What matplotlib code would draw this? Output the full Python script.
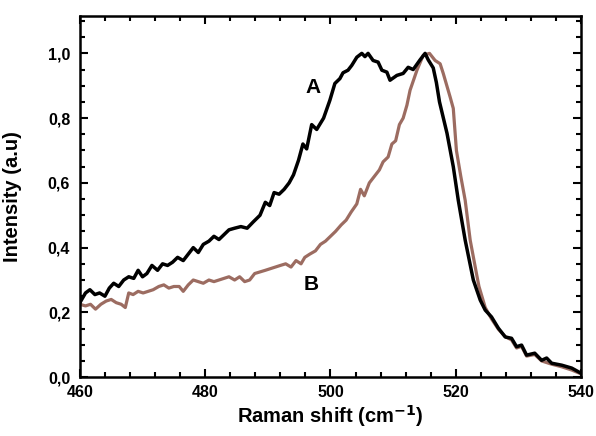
import matplotlib
matplotlib.use("Agg")
import matplotlib.pyplot as plt
from matplotlib.ticker import MultipleLocator, FuncFormatter

plt.rcParams['font.family'] = ['Liberation Sans', 'DejaVu Sans']
plt.rcParams['font.weight'] = 'bold'

# curve A (black)
xa = [460, 460.9, 461.6, 462.4, 463.15, 464.0, 464.7, 465.4, 466.2, 467.0,
      467.8, 468.6, 469.3, 470.0, 470.7, 471.5, 472.4, 473.2, 474.0, 474.8,
      475.6, 476.5, 477.3, 478.1, 478.9, 479.7, 480.6, 481.4, 482.2, 483.0,
      483.8, 484.7, 485.7, 486.7, 487.7, 488.75, 489.6, 490.3, 491.0, 491.8,
      492.6, 493.4, 494.1, 494.9, 495.6, 496.2, 497.0, 497.8, 498.9, 499.9,
      500.7, 501.5, 502.0, 502.8, 503.4, 504.2, 505.0, 505.5, 506.0, 506.8,
      507.6, 508.2, 509.0, 509.5, 510.6, 511.6, 512.4, 513.2, 514.3, 515.1,
      515.6, 516.4, 516.9, 517.4, 518.6, 519.6, 520.4, 521.5, 522.8, 523.9,
      524.7, 525.7, 526.8, 527.9, 528.9, 529.7, 530.5, 531.3, 532.6, 533.7,
      534.5, 535.3, 536.9, 538.5, 540]
ya = [0.23, 0.26, 0.27, 0.255, 0.26, 0.25, 0.275, 0.29, 0.28, 0.30,
      0.31, 0.305, 0.33, 0.31, 0.32, 0.345, 0.33, 0.35, 0.345, 0.355,
      0.37, 0.36, 0.38, 0.40, 0.385, 0.41, 0.42, 0.435, 0.425, 0.44,
      0.455, 0.46, 0.465, 0.46, 0.48, 0.50, 0.54, 0.53, 0.57, 0.565,
      0.58, 0.60, 0.625, 0.67, 0.72, 0.705, 0.78, 0.765, 0.80, 0.855,
      0.907, 0.922, 0.94, 0.948, 0.963, 0.988, 1.0, 0.99, 1.0, 0.978,
      0.973, 0.948, 0.942, 0.917, 0.932, 0.938, 0.957, 0.95, 0.98, 1.0,
      0.98, 0.955, 0.91, 0.85, 0.753, 0.65, 0.546, 0.423, 0.30, 0.238,
      0.207, 0.186, 0.151, 0.124, 0.12, 0.094, 0.099, 0.068, 0.074, 0.052,
      0.059, 0.043, 0.037, 0.028, 0.012]

# curve B (brown)
xb = [460, 460.9, 461.7, 462.5, 463.35, 464.2, 465.0, 465.8, 466.6, 467.25,
      467.8, 468.5, 469.3, 470.1, 470.9, 471.7, 472.6, 473.4, 474.2, 475.0,
      475.85, 476.5, 477.3, 478.1, 478.9, 479.7, 480.6, 481.4, 482.2, 483.0,
      483.8, 484.7, 485.5, 486.3, 487.1, 487.9, 488.75, 489.6, 490.4, 491.2,
      492.0, 492.85, 493.7, 494.5, 495.3, 495.9, 496.7, 497.6, 498.4, 499.2,
      500.0, 500.8, 501.7, 502.5, 503.3, 504.2, 504.8, 505.4, 506.2, 507.0,
      507.8, 508.4, 509.2, 509.8, 510.4, 511.0, 511.6, 512.2, 512.7, 513.8,
      514.8, 515.8, 516.7, 517.5, 518.0, 519.1, 519.6, 520.1, 520.8, 521.5,
      522.3, 523.3, 523.7, 524.7, 525.7, 526.8, 527.9, 528.9, 529.7, 530.5,
      531.3, 532.6, 533.7, 534.5, 535.3, 536.9, 538.5, 540]
yb = [0.225, 0.22, 0.225, 0.21, 0.225, 0.235, 0.24, 0.23, 0.225, 0.215,
      0.26, 0.255, 0.265, 0.26, 0.265, 0.27, 0.28, 0.285, 0.275, 0.28,
      0.28, 0.265, 0.285, 0.30, 0.295, 0.29, 0.30, 0.295, 0.30, 0.305,
      0.31, 0.30, 0.31, 0.295, 0.30, 0.32, 0.325, 0.33, 0.335, 0.34,
      0.345, 0.35, 0.34, 0.36, 0.35, 0.37, 0.38, 0.39, 0.41, 0.42,
      0.435, 0.45, 0.47, 0.485, 0.51, 0.535, 0.58, 0.56, 0.60, 0.62,
      0.64, 0.665, 0.68, 0.72, 0.73, 0.78, 0.80, 0.84, 0.886, 0.948,
      0.994, 1.0, 0.978, 0.968, 0.938, 0.865, 0.83, 0.70, 0.62, 0.546,
      0.423, 0.32, 0.28, 0.215, 0.18, 0.148, 0.125, 0.115, 0.09, 0.095,
      0.065, 0.07, 0.05, 0.045, 0.04, 0.032, 0.022, 0.01]

fig = plt.figure(figsize=(5.96, 4.36), dpi=100)
ax = fig.add_axes([0.134, 0.135, 0.841, 0.828])

ax.plot(xb, yb, color='#9c6c61', lw=2.3)
ax.plot(xa, ya, color='black', lw=2.5)

ax.text(497.2, 0.895, 'A', fontsize=15, fontweight='bold', ha='center', va='center')
ax.text(497.0, 0.287, 'B', fontsize=15, fontweight='bold', ha='center', va='center')

ax.set_xlim(460, 540)
ax.set_ylim(0, 1.115)
ax.xaxis.set_major_locator(MultipleLocator(20))
ax.xaxis.set_minor_locator(MultipleLocator(4))
ax.yaxis.set_major_locator(MultipleLocator(0.2))
ax.yaxis.set_minor_locator(MultipleLocator(0.05))
ax.yaxis.set_major_formatter(FuncFormatter(lambda v, p: ('%.1f' % v).replace('.', ',')))
ax.tick_params(which='both', direction='in', top=True, right=True, width=1.5, labelsize=11.5)
ax.tick_params(which='major', length=6)
ax.tick_params(which='minor', length=3.5)
ax.tick_params(axis='y', which='major', pad=7)
ax.tick_params(axis='x', which='major', pad=6)
for s in ax.spines.values():
    s.set_linewidth(1.8)

ax.set_xlabel('Raman shift (cm$^{\\mathbf{-1}}$)', fontsize=14.5, fontweight='bold', labelpad=2)
ax.set_ylabel('Intensity (a.u)', fontsize=14.5, fontweight='bold')
ax.yaxis.set_label_coords(-0.116, 0.5)

fig.savefig('out.png', dpi=100)
